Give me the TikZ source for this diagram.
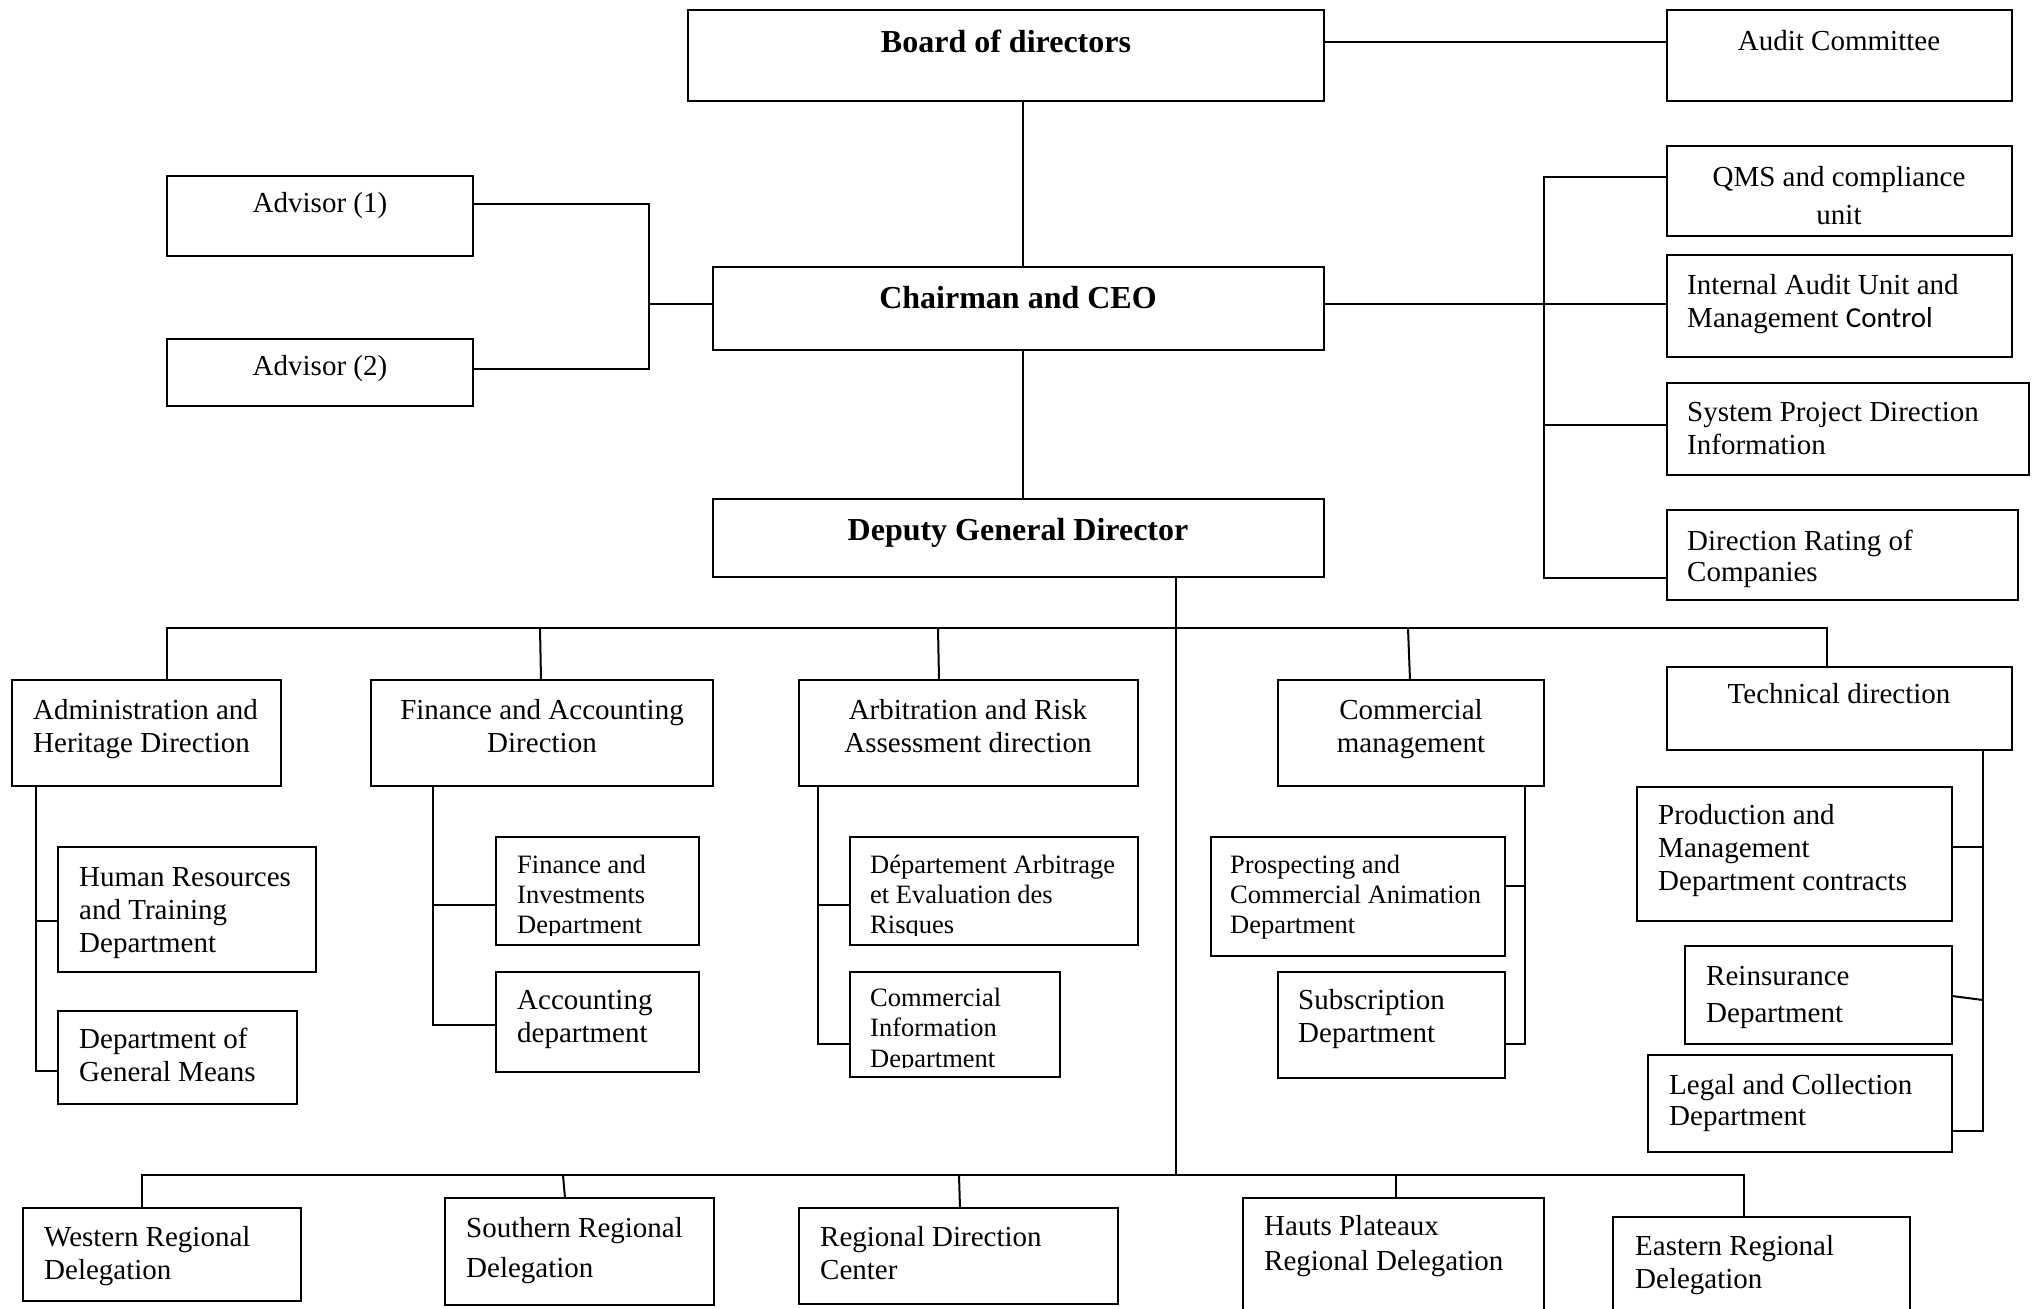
\documentclass[tikz,border=0pt]{standalone}
\usepackage{fontspec}
\setmainfont{Liberation Serif}
\newfontfamily\carlito{Carlito}
\tikzset{
  box/.style={draw, line width=2.6pt, inner sep=0pt, outer sep=0pt, anchor=north west},
  conn/.style={line width=2pt},
  t/.style={font=\fontsize{29}{33}\selectfont, inner sep=0pt, align=left, anchor=base west},
  tc/.style={t, align=center, anchor=base},
  ts/.style={t, font=\fontsize{26.5}{30.3}\selectfont},
  tb/.style={font=\fontsize{32}{38}\selectfont\bfseries, inner sep=0pt, align=center, anchor=base},
}
% multi-line text nodes are placed by the baseline of their LAST line
\newcommand\obox[5]{\node[box, minimum width=#4pt-#2pt, minimum height=#5pt-#3pt] (#1) at (#2,#3) {};}
\begin{document}
\begin{tikzpicture}[x=1pt,y=-1pt]
\useasboundingbox (0,0) rectangle (2040,1309);
\clip (0,0) rectangle (2040,1309);
% ---- boxes
\obox{board}{688}{10}{1324}{101}
\obox{audit}{1667}{10}{2012}{101}
\obox{adv1}{167}{176}{473}{256}
\obox{adv2}{167}{339}{473}{406}
\obox{chair}{713}{267}{1324}{350}
\obox{dep}{713}{499}{1324}{577}
\obox{qms}{1667}{146}{2012}{236}
\obox{ia}{1667}{255}{2012}{357}
\obox{sys}{1667}{383}{2029}{475}
\obox{rating}{1667}{510}{2018}{600}
\obox{admin}{12}{680}{281}{786}
\obox{fin}{371}{680}{713}{786}
\obox{arb}{799}{680}{1138}{786}
\obox{com}{1278}{680}{1544}{786}
\obox{tech}{1667}{667}{2012}{750}
\obox{hr}{58}{847}{316}{972}
\obox{dgm}{58}{1011}{297}{1104}
\obox{fi}{496}{837}{699}{945}
\obox{acc}{496}{972}{699}{1072}
\obox{dar}{850}{837}{1138}{945}
\obox{ci}{850}{972}{1060}{1077}
\obox{pros}{1211}{837}{1505}{956}
\obox{sub}{1278}{972}{1505}{1078}
\obox{prod}{1637}{787}{1952}{921}
\obox{reins}{1685}{946}{1952}{1044}
\obox{legal}{1648}{1055}{1952}{1152}
\obox{west}{23}{1208}{301}{1301}
\obox{south}{445}{1198}{714}{1305}
\obox{rdc}{799}{1208}{1118}{1304}
\obox{hauts}{1243}{1198}{1544}{1330}
\obox{east}{1613}{1217}{1910}{1330}
% ---- texts
\node[tb] (board-t) at (1006,52) {Board of directors};
\node[tc] (audit-t) at (1839,50) {Audit Committee};
\node[tc] (adv1-t) at (320,212) {Advisor (1)};
\node[tc] (adv2-t) at (320,375) {Advisor (2)};
\node[tb] (chair-t) at (1018,308) {Chairman and CEO};
\node[tb] (dep-t) at (1018,540) {Deputy General Director};
\node[tc, font=\fontsize{29}{38}\selectfont] (qms-t) at (1839,224) {QMS and compliance\\unit};
\node[t] (ia-t) at (1687,327) {Internal Audit Unit and\\Management {\carlito Control}};
\node[t] (sys-t) at (1687,454) {System Project Direction\\Information};
\node[t, font=\fontsize{29}{31}\selectfont] (rating-t) at (1687,581) {Direction Rating of\\Companies};
\node[t] (admin-t) at (33,752) {Administration and\\Heritage Direction};
\node[tc] (fin-t) at (542,752) {Finance and Accounting\\Direction};
\node[tc] (arb-t) at (968,752) {Arbitration and Risk\\Assessment direction};
\node[tc] (com-t) at (1411,752) {Commercial\\management};
\node[tc] (tech-t) at (1839,703) {Technical direction};
\node[t] (hr-t) at (79,952) {Human Resources\\and Training\\Department};
\node[t] (dgm-t) at (79,1081) {Department of\\General Means};
\begin{scope}
\clip (fi.north west) rectangle (fi.east |- 0,935);
\node[ts] (fi-t) at (517,933.6) {Finance and\\Investments\\Department};
\end{scope}
\node[t] (acc-t) at (517,1042) {Accounting\\department};
\begin{scope}
\clip (dar.north west) rectangle (dar.east |- 0,935);
\node[ts] (dar-t) at (870,933.6) {Département Arbitrage\\et Evaluation des\\Risques};
\end{scope}
\begin{scope}
\clip (ci.north west) rectangle (ci.east |- 0,1067.5);
\node[ts] (ci-t) at (870,1067.1) {Commercial\\Information\\Department};
\end{scope}
\node[ts] (pros-t) at (1230,933.6) {Prospecting and\\Commercial Animation\\Department};
\node[t] (sub-t) at (1298,1042) {Subscription\\Department};
\node[t] (prod-t) at (1658,890) {Production and\\Management\\Department contracts};
\node[t, font=\fontsize{29}{37}\selectfont] (reins-t) at (1706,1022) {Reinsurance\\Department};
\node[t, font=\fontsize{29}{31}\selectfont] (legal-t) at (1669,1125) {Legal and Collection\\Department};
\node[t] (west-t) at (44,1279) {Western Regional\\Delegation};
\node[t, font=\fontsize{29}{40}\selectfont] (south-t) at (466,1277) {Southern Regional\\Delegation};
\node[t] (rdc-t) at (820,1279) {Regional Direction\\Center};
\node[t, font=\fontsize{29}{35}\selectfont] (hauts-t) at (1264,1270) {Hauts Plateaux\\Regional Delegation};
\node[t] (east-t) at (1635,1288) {Eastern Regional\\Delegation};
% ---- connectors
\begin{scope}[conn]
\draw (board.east |- 0,42) -- (audit.west |- 0,42);
\draw (board.south -| 1023,0) -- (chair.north -| 1023,0);
\draw (chair.south -| 1023,0) -- (dep.north -| 1023,0);
\draw (adv1.east |- 0,204) -- (649,204) -- (649,369) -- (adv2.east |- 0,369);
\draw (649,304) -- (chair.west |- 0,304);
\draw (chair.east |- 0,304) -- (ia.west |- 0,304);
\draw (qms.west |- 0,177) -- (1544,177) -- (1544,578) -- (rating.west |- 0,578);
\draw (1544,425) -- (sys.west |- 0,425);
% deputy to directions
\draw (dep.south -| 1176,0) -- (1176,1175);
\draw (admin.north -| 167,0) -- (167,628) -- (1827,628) -- (tech.north -| 1827,0);
\draw (540,628) -- (fin.north -| 541,0);
\draw (938,628) -- (arb.north -| 939,0);
\draw (1408,628) -- (com.north -| 1410,0);
% direction children
\draw (admin.south -| 36,0) -- (36,1071) -- (dgm.west |- 0,1071);
\draw (36,921) -- (hr.west |- 0,921);
\draw (fin.south -| 433,0) -- (433,1025) -- (acc.west |- 0,1025);
\draw (433,905) -- (fi.west |- 0,905);
\draw (arb.south -| 818,0) -- (818,1044) -- (ci.west |- 0,1044);
\draw (818,905) -- (dar.west |- 0,905);
\draw (com.south -| 1525,0) -- (1525,1044) -- (sub.east |- 0,1044);
\draw (1525,886) -- (pros.east |- 0,886);
\draw (tech.south -| 1983,0) -- (1983,1131) -- (legal.east |- 0,1131);
\draw (1983,847) -- (prod.east |- 0,847);
\draw (1983,1000) -- (reins.east |- 0,996);
% regional delegations
\draw (west.north -| 142,0) -- (142,1175) -- (1744,1175) -- (east.north -| 1744,0);
\draw (563,1175) -- (south.north -| 565,0);
\draw (959,1175) -- (rdc.north -| 960,0);
\draw (1396,1175) -- (hauts.north -| 1396,0);
\end{scope}
\end{tikzpicture}
\end{document}
